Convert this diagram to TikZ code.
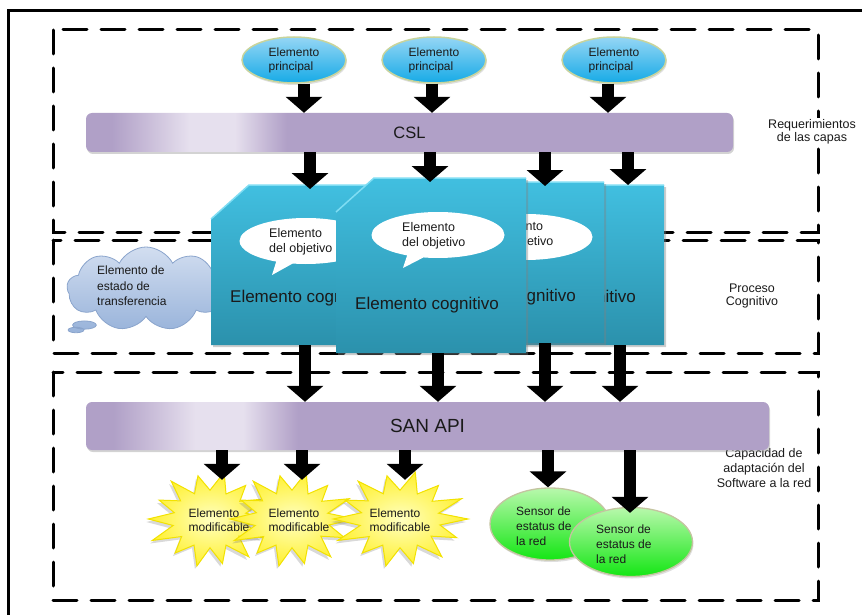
\documentclass[tikz,border=0pt]{standalone}
\usepackage{fontspec}
\setmainfont{Liberation Sans}
\usetikzlibrary{shapes.geometric,shapes.callouts,shapes.symbols,shadows,arrows.meta,calc}

\definecolor{barpur}{HTML}{B0A0C7}
\definecolor{barmid}{HTML}{CBBFDA}
\definecolor{barlight}{HTML}{E6E0EE}
\definecolor{elltop}{HTML}{95D6F5}
\definecolor{ellbot}{HTML}{16AAE6}
\definecolor{ellborder}{HTML}{C8D49C}
\definecolor{cogtop}{HTML}{41BFE0}
\definecolor{cogbot}{HTML}{2B91AC}
\definecolor{coghi}{HTML}{7FDDF3}
\definecolor{cloudtop}{HTML}{D2DEF0}
\definecolor{cloudbot}{HTML}{98B3DA}
\definecolor{cloudline}{HTML}{8AA4CC}
\definecolor{startop}{HTML}{FFFFC0}
\definecolor{starbot}{HTML}{FFF030}
\definecolor{starline}{HTML}{F2E200}
\definecolor{sentop}{HTML}{B8F8AC}
\definecolor{senbot}{HTML}{14E614}
\definecolor{senline}{HTML}{C4C4A0}
\definecolor{txt}{HTML}{1A1A1A}

\pgfdeclarehorizontalshading{barshade}{100bp}{color(0bp)=(barpur); color(25bp)=(barpur); color(27bp)=(barpur); color(30bp)=(barmid); color(33bp)=(barlight); color(36.5bp)=(barlight); color(38.5bp)=(barmid); color(40.5bp)=(barpur); color(100bp)=(barpur)}

\newcommand{\cogbox}[1]{%
  \path[cogfill] ([yshift=-34pt]#1.north west) -- ([xshift=38pt]#1.north west) -- (#1.north east) -- (#1.south east) -- (#1.south west) -- cycle;
  \draw[coghl] ([yshift=-34pt]#1.north west) -- ([xshift=38pt]#1.north west) -- (#1.north east);}

\newcommand{\burstshape}[3]{%
  \path[burstfill] ($(#1.center)+(#2,0)$) foreach \ang/\rad in {12/0.6,25/0.92,38/0.58,52/1.0,65/0.6,78/0.95,90/0.6,102/1.0,115/0.6,128/0.9,141/0.58,154/1.02,167/0.6,180/0.98,193/0.58,206/0.9,219/0.6,232/1.0,245/0.58,258/0.92,270/0.6,283/1.0,296/0.58,309/0.9,322/0.6,335/1.0,348/0.58} { -- ($(#1.center)+({#2*\rad*cos(\ang)},{#3*\rad*sin(\ang)})$) } -- cycle;}

\begin{document}
\begin{tikzpicture}[x=1pt,y=-1pt,
  dashbox/.style={draw=black, line width=3pt, dash pattern=on 24pt off 14pt, line cap=round},
  barrow/.style={draw=black, line width=12pt, -{Triangle[width=36pt,length=16pt]}},
  princ/.style={ellipse, minimum width=104pt, minimum height=46pt, top color=elltop, bottom color=ellbot, draw=ellborder, line width=1.5pt, align=left, font=\fontsize{12}{14}\selectfont, text=txt, inner sep=0pt, drop shadow={shadow xshift=1pt, shadow yshift=-2pt, opacity=0.25}},
  bar/.style={rectangle, rounded corners=6pt, shading=barshade, inner sep=0pt, text=txt, drop shadow={shadow xshift=1pt, shadow yshift=-2pt, opacity=0.35}},
  anchorbox/.style={rectangle, inner sep=0pt, outer sep=0pt},
  cogfill/.style={top color=cogtop, bottom color=cogbot, drop shadow={shadow xshift=2pt, shadow yshift=-2pt, opacity=0.4}},
  coghl/.style={draw=coghi, line width=1.5pt},
  cogtext/.style={font=\fontsize{17}{19}\selectfont, text=txt, inner sep=0pt},
  bubble/.style={ellipse callout, fill=white, draw=none, minimum width=133pt, minimum height=46pt, inner sep=0pt},
  bubtext/.style={align=left, font=\fontsize{12.5}{15}\selectfont, text=txt, inner sep=0pt, anchor=west},
  small/.style={align=left, font=\fontsize{12}{15.5}\selectfont, text=txt, inner sep=0pt},
  sidelabel/.style={align=center, font=\fontsize{12.5}{13.5}\selectfont, text=txt, inner sep=1pt},
  cloudc/.style={cloud callout, cloud puffs=9, cloud puff arc=125, aspect=1.9, minimum width=158pt, minimum height=84pt, top color=cloudtop, bottom color=cloudbot, draw=cloudline, line width=0.8pt, inner sep=0pt},
  burstfill/.style={inner color=startop, outer color=starbot, draw=starline, line width=1pt, drop shadow={shadow xshift=-2pt, shadow yshift=-3pt, opacity=0.3}},
  starhold/.style={ellipse, minimum width=124pt, minimum height=78pt, inner sep=0pt},
  sensor/.style={ellipse, top color=sentop, bottom color=senbot, draw=senline, line width=1.3pt, inner sep=0pt, drop shadow={shadow xshift=1pt, shadow yshift=-2pt, opacity=0.25}}
]
\useasboundingbox (0,0) rectangle (862,615);

% frame and layers
\draw[line width=3pt] (8,615) -- (8,11) -- (862,11);
\draw[dashbox] (53,30) rectangle (818,232);
\draw[dashbox] (53,240) rectangle (818,353);
\draw[dashbox] (53,372) rectangle (818,600);

% side labels
\node[sidelabel, fill=white] (lreq) at (812,132) {Requerimientos\\de las capas};
\node[sidelabel] (lproc) at (752,296) {Proceso\\Cognitivo};
\node[sidelabel, font=\fontsize{12.5}{15}\selectfont] (lcap) at (764,468) {Capacidad de\\adaptación del\\Software a la red};

% principal elements
\node[princ] (p1) at (294,60) {Elemento\\principal};
\node[princ] (p2) at (434,60) {Elemento\\principal};
\node[princ] (p3) at (614,60) {Elemento\\principal};

% bars
\node[bar, minimum width=647pt, minimum height=39pt, font=\fontsize{16.5}{18}\selectfont] (csl) at (409.5,132.5) {CSL};
\node[bar, minimum width=683pt, minimum height=48pt, font=\fontsize{19}{20}\selectfont] (san) at (427.5,426) {SAN API};

% cloud
\node[cloudc, callout absolute pointer={(76,330)}] (cloud) at (146,289) {};
\node[small, anchor=west] (cloudtxt) at (97,286) {Elemento de\\estado de\\transferencia};

% cognitive boxes (anchors)
\node[anchorbox, minimum width=184pt, minimum height=160pt] (boxD) at (572,265) {};
\node[anchorbox, minimum width=184pt, minimum height=161pt] (boxC) at (512,262.5) {};
\node[anchorbox, minimum width=189pt, minimum height=160pt] (boxA) at (305.5,265) {};
\node[anchorbox, minimum width=190pt, minimum height=175pt] (boxB) at (431,265.5) {};

\cogbox{boxD}
\node[cogtext] (tD) at (564,298) {Elemento cognitivo};

\cogbox{boxC}
\node[bubble, callout absolute pointer={(492,270)}] (bC) at (526,237) {};
\node[bubtext] (btC) at (490,235) {Elemento\\del objetivo};
\node[cogtext] (tC) at (504,297) {Elemento cognitivo};

\cogbox{boxA}
\node[bubble, callout absolute pointer={(272,275)}] (bA) at (306,241) {};
\node[bubtext] (btA) at (269,242) {Elemento\\del objetivo};
\node[cogtext] (tA) at (302,298) {Elemento cognitivo};

\cogbox{boxB}
\node[bubble, callout absolute pointer={(403,268)}] (bB) at (438,235) {};
\node[bubtext] (btB) at (402,236) {Elemento\\del objetivo};
\node[cogtext] (tB) at (427,305) {Elemento cognitivo};

% modifiable elements
\node[starhold] (s1) at (210,519) {};
\node[starhold] (s2) at (292,519) {};
\node[starhold] (s3) at (400,519) {};
\burstshape{s1}{63}{48}
\node[small, font=\fontsize{12}{14.5}\selectfont] (st1) at (219,520) {Elemento\\modificable};
\burstshape{s2}{63}{48}
\node[small, font=\fontsize{12}{14.5}\selectfont] (st2) at (299,520) {Elemento\\modificable};
\burstshape{s3}{68}{48}
\node[small, font=\fontsize{12}{14.5}\selectfont] (st3) at (400,520) {Elemento\\modificable};

% sensors
\node[sensor, minimum width=120pt, minimum height=72pt] (n1) at (550,524) {};
\node[small, anchor=west, font=\fontsize{12}{15}\selectfont] (nt1) at (516,526) {Sensor de\\estatus de\\la red};
\node[sensor, minimum width=123pt, minimum height=69pt] (n2) at (631,542) {};
\node[small, anchor=west, font=\fontsize{12}{15}\selectfont] (nt2) at (596,544) {Sensor de\\estatus de\\la red};

% column coordinates
\coordinate (c1) at (304,0);
\coordinate (c2) at (432,0);
\coordinate (c3) at (608,0);
\coordinate (k1) at (310,0);
\coordinate (k2) at (430,0);
\coordinate (k3) at (545,0);
\coordinate (k4) at (628,0);
\coordinate (m1) at (305,0);
\coordinate (m2) at (438,0);
\coordinate (m3) at (545,0);
\coordinate (m4) at (620,0);
\coordinate (q1) at (222,0);
\coordinate (q2) at (302,0);
\coordinate (q3) at (405,0);
\coordinate (q4) at (548,0);
\coordinate (q5) at (630,0);

% arrows
\draw[barrow] (p1.south -| c1) -- (csl.north -| c1);
\draw[barrow] (p2.south -| c2) -- (csl.north -| c2);
\draw[barrow] (p3.south -| c3) -- (csl.north -| c3);

\draw[barrow, shorten >=-4pt] (csl.south -| k1) -- (boxA.north -| k1);
\draw[barrow, shorten >=-4pt] (csl.south -| k2) -- (boxB.north -| k2);
\draw[barrow, shorten >=-4pt] (csl.south -| k3) -- (boxC.north -| k3);
\draw[barrow] (csl.south -| k4) -- (boxD.north -| k4);

\draw[barrow] (boxA.south -| m1) -- (san.north -| m1);
\draw[barrow] (boxB.south -| m2) -- (san.north -| m2);
\draw[barrow] (boxC.south -| m3) -- (san.north -| m3);
\draw[barrow] (boxD.south -| m4) -- (san.north -| m4);

\draw[barrow] (san.south -| q1) -- (s1.north -| q1);
\draw[barrow] (san.south -| q2) -- (s2.north -| q2);
\draw[barrow] (san.south -| q3) -- (s3.north -| q3);
\draw[barrow] (san.south -| q4) -- (n1.north -| q4);
\draw[barrow, shorten >=-6pt] (san.south -| q5) -- (n2.north -| q5);
\end{tikzpicture}
\end{document}
